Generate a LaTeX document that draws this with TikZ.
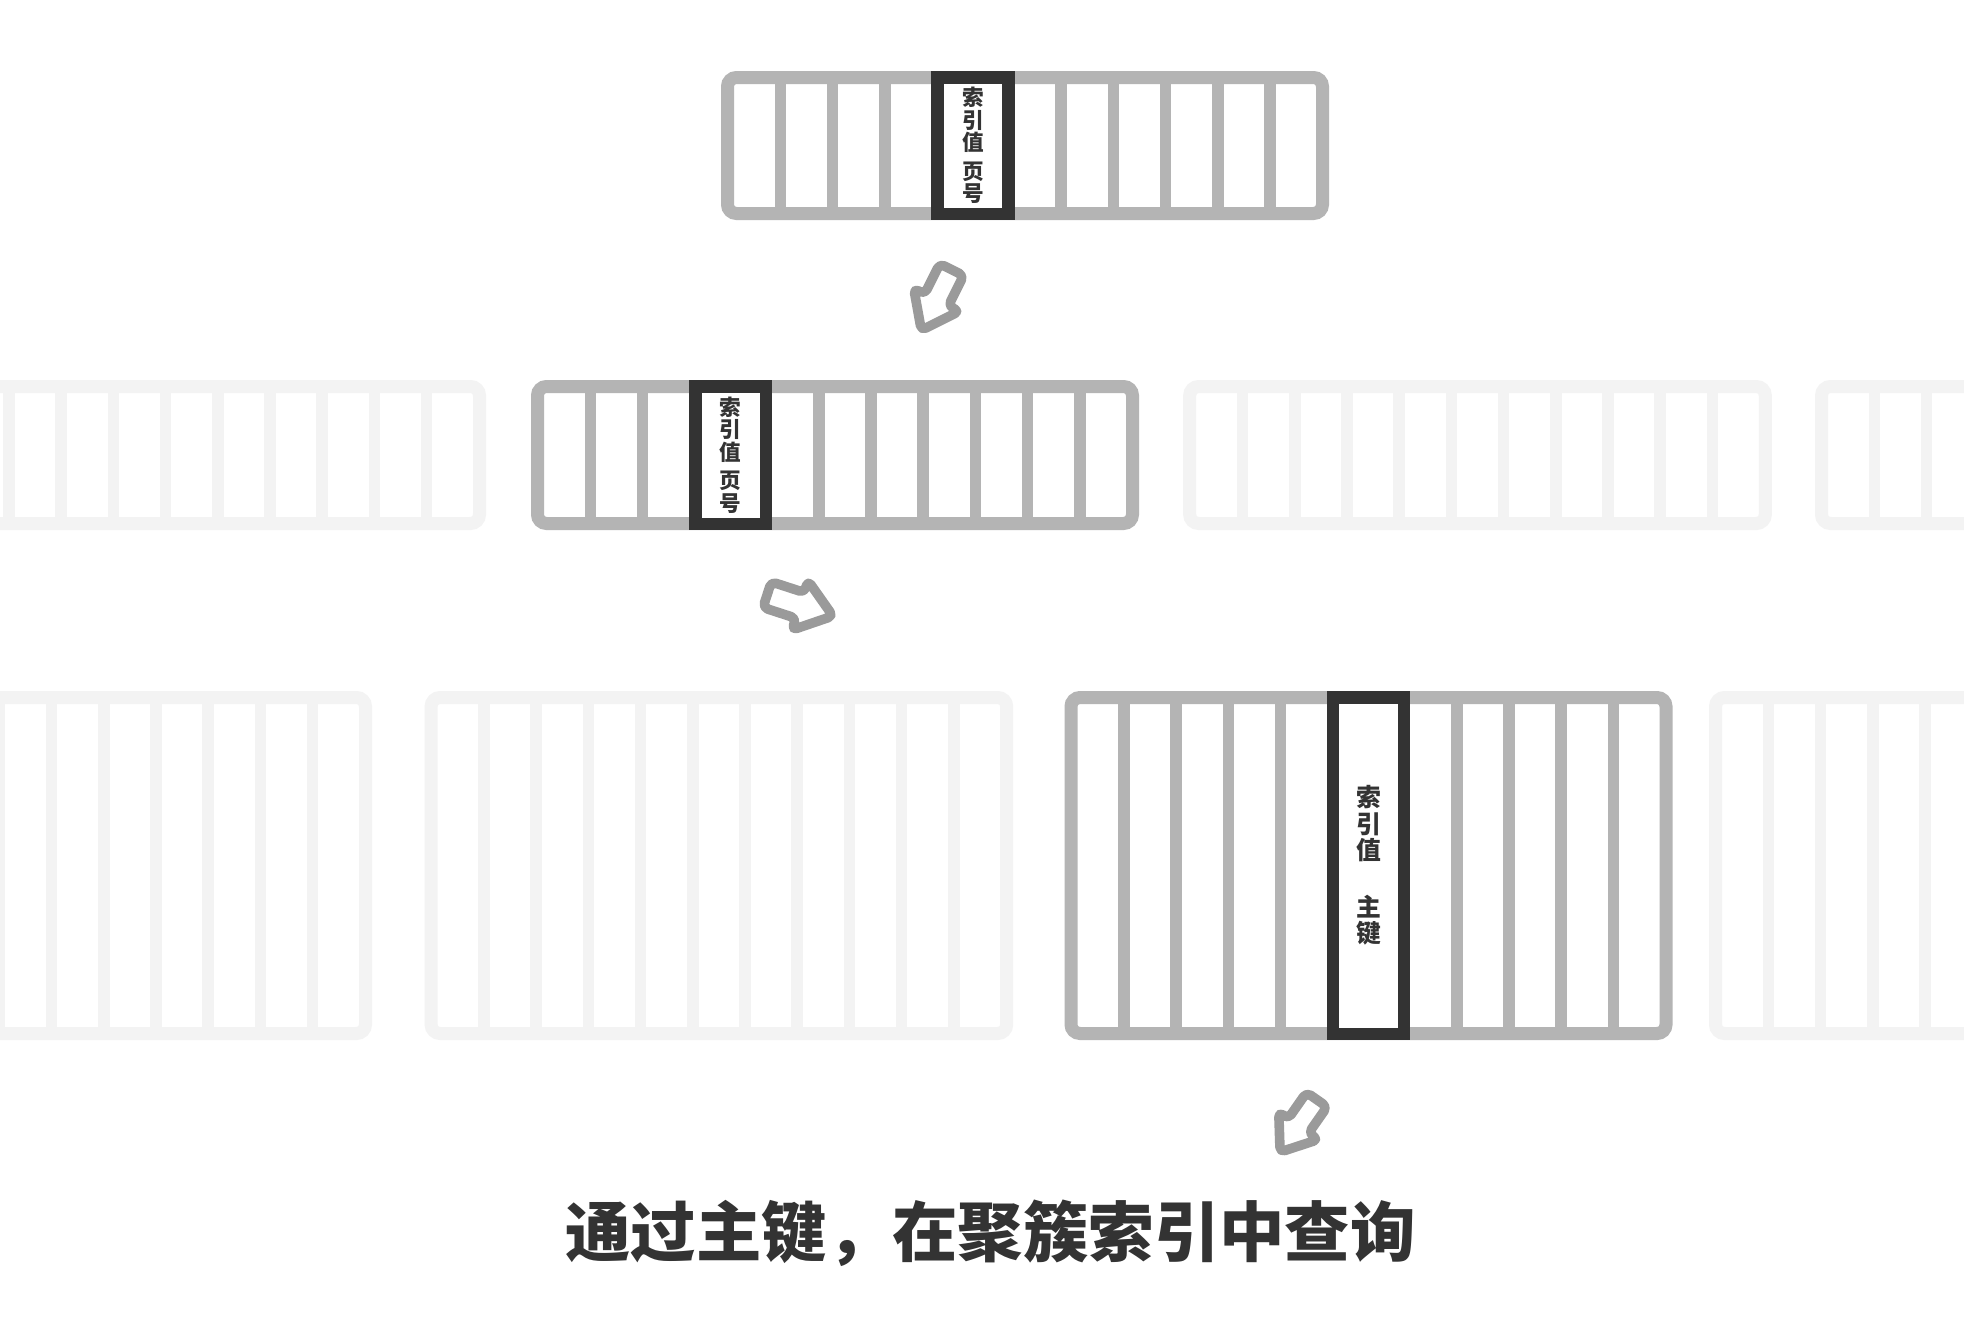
\documentclass[tikz,border=0pt]{standalone}
\usepackage{fontspec}
\usepackage{tikz}
\usepackage{xcolor}
\newfontfamily\cjk{Noto Sans CJK SC}

\definecolor{boxgray}{HTML}{B4B4B4}
\definecolor{fadegray}{HTML}{F3F3F3}
\definecolor{keydark}{HTML}{333333}
\definecolor{arrowgray}{HTML}{9A9A9A}

\begin{document}
\begin{tikzpicture}[x=0.5pt, y=-0.5pt,
    frame/.style={line width=6.5pt, rounded corners=4.5pt},
    divider/.style={line width=5.8pt},
    keycell/.style={draw=keydark, line width=6.25pt},
    keytext/.style={align=center, text=keydark, inner sep=0pt,
        font=\cjk\bfseries\fontsize{10.8pt}{11.25pt}\selectfont},
    pointer/.style={draw=arrowgray, line width=4.8pt, line join=round, rounded corners=2.5pt}]
                \useasboundingbox (0,0) rectangle (1964,1324);
                \clip (0,0) rectangle (1964,1324);
                \fill[white] (0,0) rectangle (1964,1324);

                % faded pages, 11 cells each
                \foreach \L/\T/\H in {-102.6/380/150, 1183.2/380/150, 1815/380/150,
                                      -216.6/691/349, 424.6/691/349, 1709/691/349} {
                    \draw[frame, fadegray] (\L+6.5,\T+6.5) rectangle (\L+582.1,\T+\H-6.5);
                    \foreach \k in {0,...,9}
                        \draw[divider, fadegray] ({\L+59.4+52.2*\k},\T+6.5) -- ({\L+59.4+52.2*\k},\T+\H-6.5);
                }

                % page 1 (root)
                \draw[frame, boxgray] (727.5,77.5) rectangle (1322.5,213.5);
                \foreach \x in {780.4, 832.6, 884.8, 1061.2, 1113.4, 1165.6, 1217.8, 1270.0}
                    \draw[divider, boxgray] (\x,77.5) -- (\x,213.5);
                \draw[keycell, fill=white] (937.6,77.25) rectangle (1008.6,213.75);
                \node[keytext] (rootkey) at (973.1,145.5) {索\\引\\值\\[3pt]页\\号};

                % page 2 (leaf of secondary index)
                \draw[frame, boxgray] (537.5,386.5) rectangle (1132.5,523.5);
                \foreach \x in {590.4, 642.6, 818.8, 871.0, 923.2, 975.4, 1027.6, 1079.8}
                    \draw[divider, boxgray] (\x,386.5) -- (\x,523.5);
                \draw[keycell, fill=white] (695.25,386.25) rectangle (766.15,523.75);
                \node[keytext] (leafkey) at (730.7,455) {索\\引\\值\\[3pt]页\\号};

                % page 3 (data page)
                \draw[frame, boxgray] (1071,697.5) rectangle (1666,1033.5);
                \foreach \x in {1123.9, 1176.1, 1228.3, 1280.5, 1456.7, 1508.9, 1561.1, 1613.3}
                    \draw[divider, boxgray] (\x,697.5) -- (\x,1033.5);
                \draw[keycell, fill=white] (1333.15,697.25) rectangle (1404.05,1033.75);
                \node[keytext, font=\cjk\bfseries\fontsize{12.4pt}{13.3pt}\selectfont]
                    (datakey) at (1368.6,865.5) {索\\引\\值\\[14.8pt]主\\键};

                % hand drawn arrows
                \foreach \cx/\cy/\ang/\s in {937/299/-116.6/1.06, 799/605/-18/1.08, 1299/1125/-125/1.0} {
                    \begin{scope}[shift={(\cx,\cy)}, rotate=\ang, scale=\s]
                        \draw[pointer] (-31,-12.5) -- (1,-12.5) -- (1,-24) -- (33,0)
                            -- (1,24) -- (1,12.5) -- (-31,12.5) -- cycle;
                    \end{scope}
                }

                \node[text=keydark, font=\cjk\bfseries\fontsize{32.7pt}{36pt}\selectfont, inner sep=0pt]
                    (caption) at (990.6,1233) {通过主键，在聚簇索引中查询};
            \end{tikzpicture}
\end{document}
